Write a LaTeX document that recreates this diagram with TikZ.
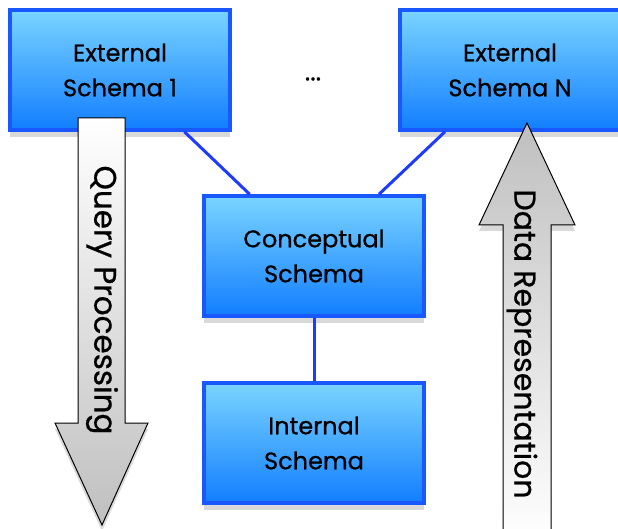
\documentclass[tikz,border=0pt]{standalone}
\usepackage{fontspec}
\setmainfont{Poppins}[FakeBold=0.7]
\usetikzlibrary{shadows}
\definecolor{schemaline}{RGB}{25, 88, 255}
\definecolor{schematop}{RGB}{122, 212, 255}
\definecolor{schemabottom}{RGB}{18, 126, 255}
\definecolor{linkblue}{RGB}{30, 58, 255}

\begin{document}
\begin{tikzpicture}[x=1pt, y=-1pt,
    schemabox/.style={draw=schemaline, line width=3.5pt, top color=schematop, bottom color=schemabottom,
        minimum width=220pt, minimum height=120pt, align=center, font=\fontsize{24}{35}\selectfont,
        drop shadow={shadow xshift=0pt, shadow yshift=-7pt, opacity=0.3}},
    flowarrow/.style={draw=black, line width=1pt, drop shadow={shadow xshift=0pt, shadow yshift=-6pt, opacity=0.3}},
    flowtext/.style={rotate=-90, font=\fontsize{30}{34}\selectfont}]
    \useasboundingbox (0,0) rectangle (618,529);

    % schemas
    \node[schemabox] (ext1) at (120,70) {External\\Schema 1};
    \node[schemabox] (extn) at (510,70) {External\\Schema N};
    \node[schemabox] (concept) at (314,256) {Conceptual\\Schema};
    \node[schemabox] (internal) at (314,443) {Internal\\Schema};
    \node[font=\fontsize{26}{30}\selectfont] (dots) at (313,79) {...};

    \draw[linkblue, line width=3pt] (ext1) -- (concept);
    \draw[linkblue, line width=3pt] (extn) -- (concept);
    \draw[linkblue, line width=3pt] (concept) -- (internal);

    % mappings
    \draw[flowarrow, top color=white, bottom color=gray!50]
        (78,118) -- (125,118) -- (125,423) -- (148,423) -- (102,525) -- (55,423) -- (78,423) -- cycle;
    \node[flowtext, font=\fontsize{31}{34}\selectfont] (query) at (102,300) {Query Processing};

    \draw[flowarrow, top color=gray!50, bottom color=white]
        (527,123) -- (575,225) -- (551,225) -- (551,540) -- (503,540) -- (503,225) -- (479,225) -- cycle;
    \node[flowtext] (datarep) at (522,344) {Data Representation};
\end{tikzpicture}
\end{document}
